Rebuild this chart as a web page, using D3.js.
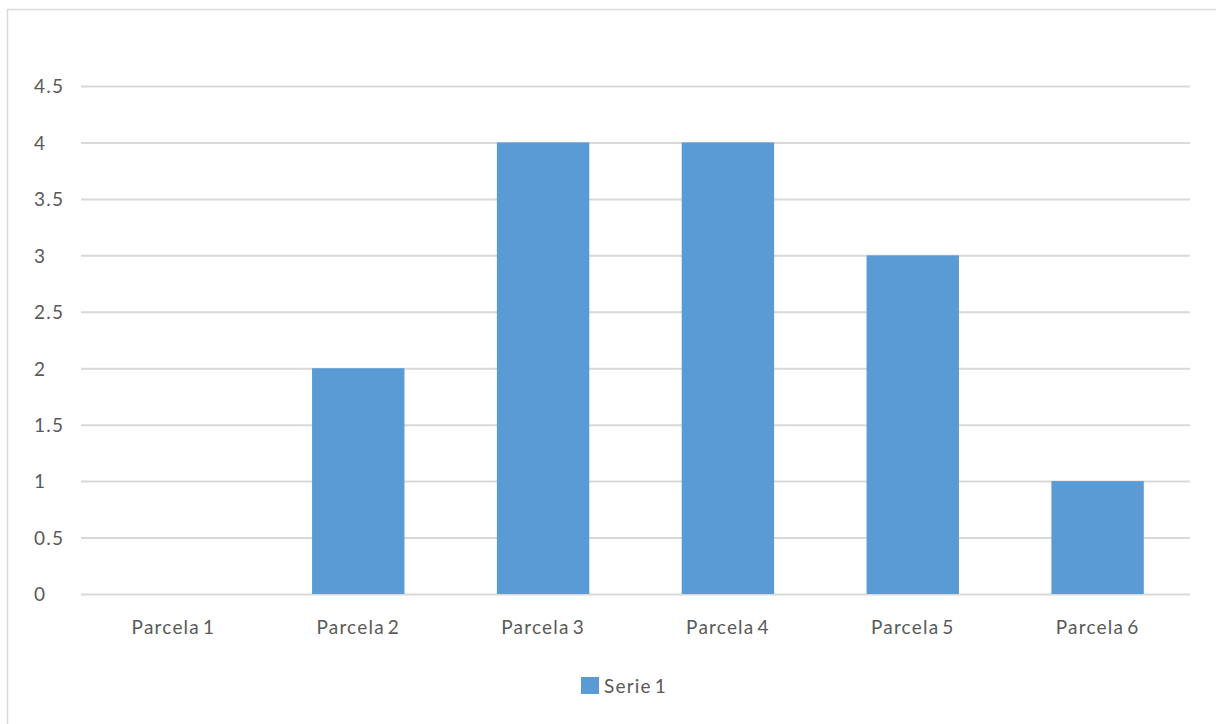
<!DOCTYPE html>
<html>
<head>
<meta charset="utf-8">
<script src="https://cdn.jsdelivr.net/npm/d3@7"></script>
<style>
  html, body { margin: 0; padding: 0; background: #fff; }
  svg { display: block; }
  text { font-family: Lato, "Open Sans", sans-serif; fill: #595959; letter-spacing: 1.2px; word-spacing: -3px; }
</style>
</head>
<body>
<svg id="chart" width="1216" height="724"></svg>
<script>
// Chart data
const categories = ["Parcela 1", "Parcela 2", "Parcela 3", "Parcela 4", "Parcela 5", "Parcela 6"];
const serie1 = [0, 2, 4, 4, 3, 1];
const yTicks = [0, 0.5, 1, 1.5, 2, 2.5, 3, 3.5, 4, 4.5];
const seriesName = "Serie 1";

const svg = d3.select("#chart");
const W = 1216, H = 724;
const plot = { left: 81, right: 1190, top: 86, bottom: 594 };
const fontSize = "19px";

// Outer chart-area border
svg.append("rect")
  .attr("x", 7.5).attr("y", 9.5)
  .attr("width", W + 10).attr("height", H + 10)
  .attr("fill", "#fff").attr("stroke", "#d9d9d9").attr("stroke-width", 1.5);

const x = d3.scaleBand()
  .domain(categories)
  .range([plot.left, plot.right])
  .paddingInner(0.5).paddingOuter(0.25);

const y = d3.scaleLinear()
  .domain([0, 4.5])
  .range([plot.bottom, plot.top]);

// Horizontal gridlines
const yAxis = d3.axisLeft(y).tickValues(yTicks).tickSize(-(plot.right - plot.left)).tickFormat(d3.format("~g"));
const gy = svg.append("g").attr("transform", `translate(${plot.left},0)`).call(yAxis);
gy.select(".domain").remove();
gy.selectAll(".tick line").attr("stroke", "#d9d9d9").attr("stroke-width", 2);
gy.selectAll(".tick text")
  .attr("x", 34 - plot.left).attr("text-anchor", "start")
  .attr("dy", "0.36em")
  .style("font-size", fontSize).attr("fill", "#595959");

// Bars
svg.append("g").selectAll("rect")
  .data(serie1)
  .join("rect")
  .attr("x", (d, i) => x(categories[i]))
  .attr("y", d => y(d))
  .attr("width", x.bandwidth())
  .attr("height", d => y(0) - y(d))
  .attr("fill", "#5b9bd5");

// Category axis
const xAxis = d3.axisBottom(x).tickSize(0).tickPadding(27);
const gx = svg.append("g").attr("transform", `translate(0,${plot.bottom})`).call(xAxis);
gx.select(".domain").remove();
gx.selectAll(".tick text").style("font-size", fontSize).attr("fill", "#595959");

// Legend
const lg = svg.append("g").attr("transform", "translate(581,677)");
lg.append("rect").attr("width", 18).attr("height", 17).attr("fill", "#5b9bd5");
lg.append("text").attr("x", 23).attr("y", 9).attr("dy", "0.36em")
  .style("font-size", fontSize).text(seriesName);
</script>
</body>
</html>
